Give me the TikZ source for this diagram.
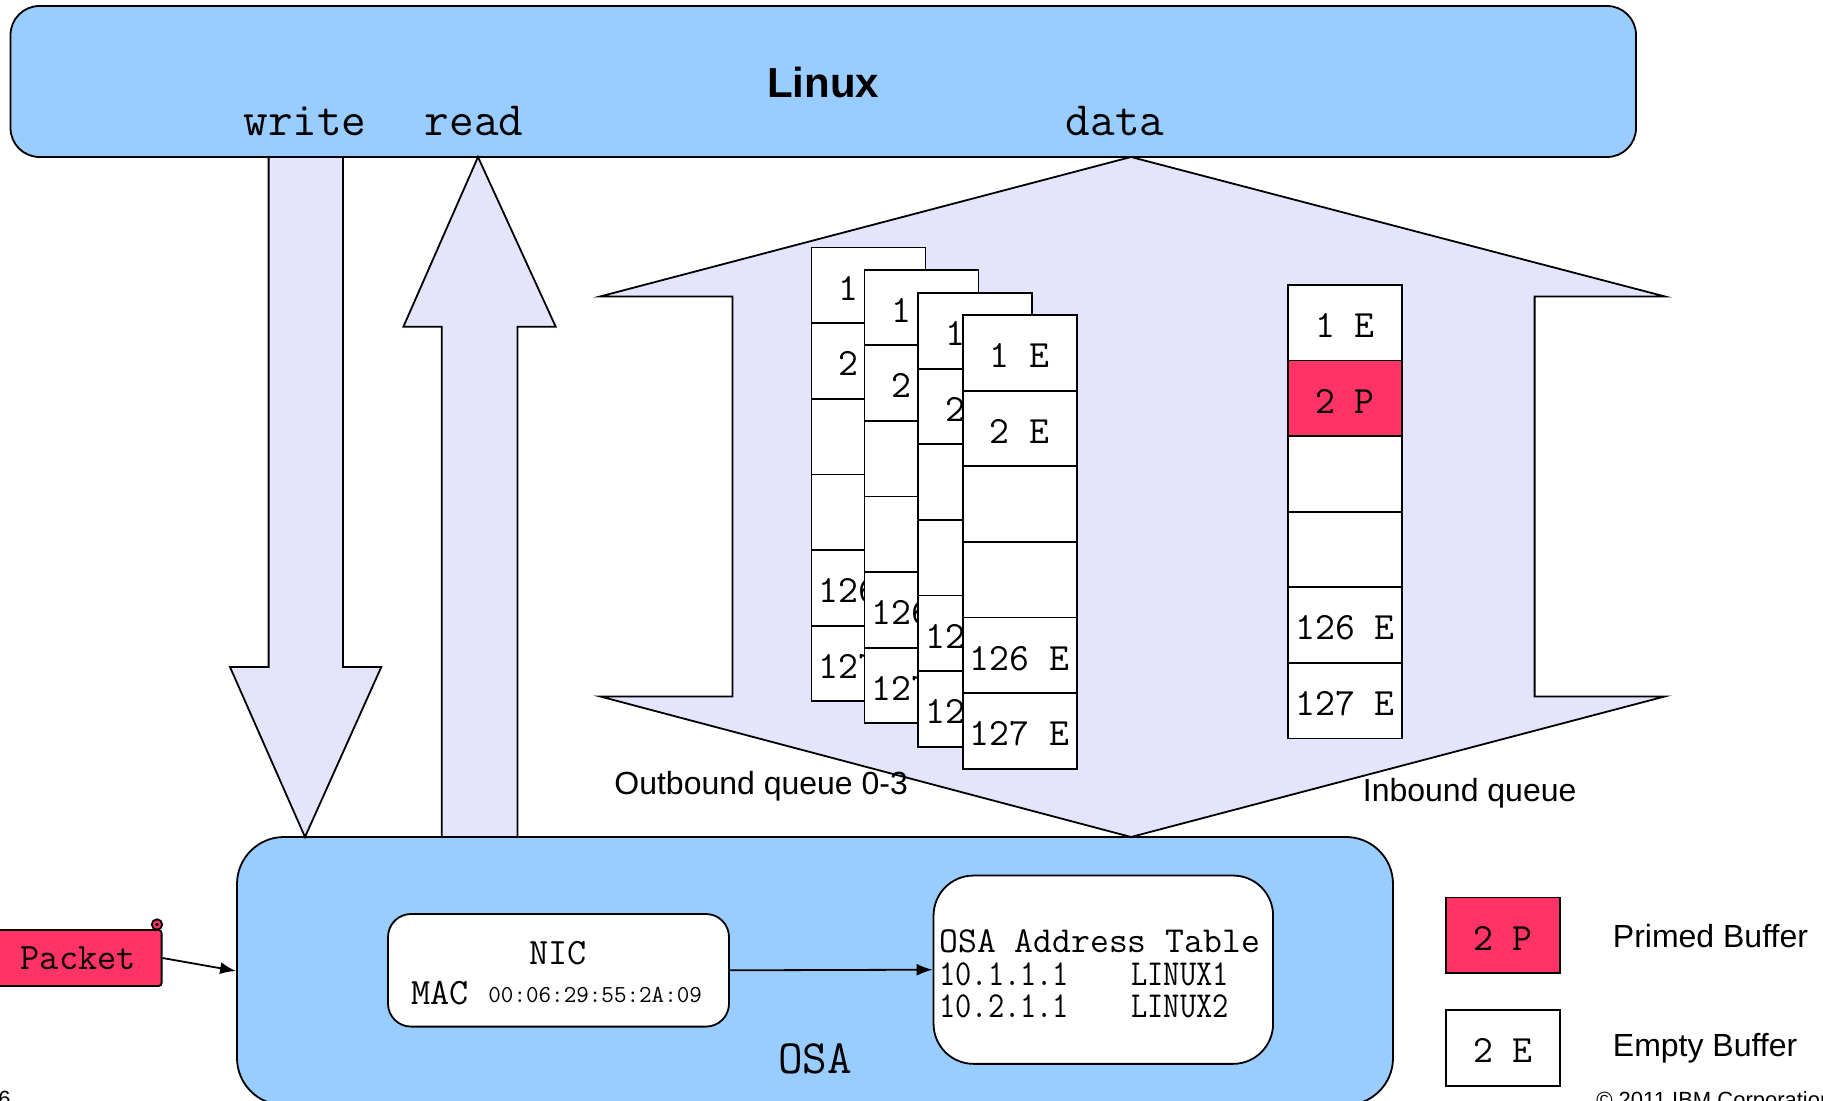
\documentclass[tikz,border=0pt]{standalone}
\usepackage{fontspec}
\setmainfont{Liberation Sans}
\usetikzlibrary{arrows.meta}

\definecolor{hostblue}{RGB}{153,204,255}
\definecolor{queuefill}{RGB}{228,228,252}
\definecolor{primed}{RGB}{255,51,102}

\tikzset{
  outline/.style={draw=black, line width=0.9pt},
  hostbox/.style={outline, fill=hostblue, inner sep=0pt},
  innerbox/.style={outline, fill=white, inner sep=0pt},
  cell/.style={outline, fill=white, minimum width=57pt, minimum height=37.8pt,
    inner sep=0pt, text height=14.8pt, text depth=0pt,
    font=\ttfamily\fontsize{19.3}{22}\selectfont},
  primedcell/.style={cell, fill=primed},
  bigmono/.style={inner sep=0pt, font=\ttfamily\fontsize{23.9}{28}\selectfont},
  midmono/.style={inner sep=0pt, font=\ttfamily\fontsize{18.6}{22}\selectfont},
  smallmono/.style={inner sep=0pt, font=\ttfamily\fontsize{12.2}{15}\selectfont},
  sanslabel/.style={inner sep=0pt, font=\fontsize{16}{19}\selectfont},
  footer/.style={inner sep=0pt, font=\fontsize{11}{13}\selectfont},
  blockarrow/.style={outline, fill=queuefill, line join=miter},
  link/.style={draw=black, line width=0.9pt, -{Latex[length=8pt,width=6pt]}},
}

\begin{document}
\begin{tikzpicture}[x=0.5pt, y=-0.5pt]
\useasboundingbox (0,0) rectangle (1823,1101);
\clip (0,0) rectangle (1823,1101);

% host and adapter boxes
\node[hostbox, rounded corners=14.5pt, minimum width=812.75pt, minimum height=75.5pt]
  (linux) at (823.25,81.5) {};
\node[inner sep=0pt, font=\bfseries\fontsize{21}{25}\selectfont] (linuxlabel) at (823,82.5) {Linux};
\node[bigmono] (writelabel) at (305,121) {write};
\node[bigmono] (readlabel) at (474,121) {read};
\node[bigmono] (datalabel) at (1115,121) {data};

\node[hostbox, rounded corners=23.5pt, minimum width=578pt, minimum height=134pt]
  (osa) at (815,971) {};
\node[bigmono] (osalabel) at (815,1059) {OSA};

% write (down) and read (up) block arrows
\draw[blockarrow] (268.6,157) -- (343,157) -- (343,667) -- (381.3,667) -- (305,837)
  -- (230,667) -- (268.6,667) -- cycle;
\draw[blockarrow] (478,157) -- (555.7,326.7) -- (517.4,326.7) -- (517.4,837)
  -- (441.8,837) -- (441.8,326.7) -- (403.4,326.7) -- cycle;

% data double arrow holding the queues
\draw[blockarrow] (1131,157) -- (1665,296.5) -- (1534.6,296.5) -- (1534.6,696.4)
  -- (1665,696.4) -- (1131,837) -- (600,696.4) -- (732.4,696.4) -- (732.4,296.5)
  -- (600,296.5) -- cycle;

% outbound queues 0-3, stacked front to back
\foreach \s/\x/\y in {1/868.5/247.6, 2/921.5/269.7, 3/975/293, 4/1019.6/315} {
  \foreach \r/\t in {1/1 E, 2/2 E, 3/, 4/, 5/126 E, 6/127 E} {
    \node[cell] (out\s-\r) at (\x,{\y+(\r-0.5)*75.6}) {\t};
  }
}

% inbound queue
\foreach \r/\t/\st in {1/1 E/cell, 2/2 P/primedcell, 3//cell, 4//cell, 5/126 E/cell, 6/127 E/cell} {
  \node[style=\st] (in-\r) at (1345,{284.8+(\r-0.5)*75.6}) {\t};
}

\node[sanslabel, anchor=west] (outlabel) at (614,786) {Outbound queue 0-3};
\node[sanslabel, anchor=west] (inlabel) at (1362.5,793) {Inbound queue};

% NIC and address table inside the adapter
\node[innerbox, rounded corners=11.5pt, minimum width=170.5pt, minimum height=56.3pt]
  (nic) at (558.5,970.3) {};
\node[midmono] (niclabel) at (558,953) {NIC};
\node[midmono, anchor=west] (maclabel) at (411,993) {MAC};
\node[smallmono, anchor=west] (macaddr) at (488,995) {00:06:29:55:2A:09};

\node[innerbox, rounded corners=20pt, minimum width=169.75pt, minimum height=94.15pt]
  (table) at (1103.3,969.7) {};
\node[inner sep=0pt, anchor=west, font=\ttfamily\fontsize{18.3}{22}\selectfont]
  (tabletitle) at (939,941.7) {OSA Address Table};
\node[inner sep=0pt, anchor=west, font=\ttfamily\fontsize{18.3}{22}\selectfont]
  (ip1) at (939,974) {\scalebox{0.86}[1]{10.1.1.1}};
\node[inner sep=0pt, anchor=west, font=\ttfamily\fontsize{18.3}{22}\selectfont]
  (host1) at (1131,974) {\scalebox{0.86}[1]{LINUX1}};
\node[inner sep=0pt, anchor=west, font=\ttfamily\fontsize{18.3}{22}\selectfont]
  (ip2) at (939,1006.8) {\scalebox{0.86}[1]{10.2.1.1}};
\node[inner sep=0pt, anchor=west, font=\ttfamily\fontsize{18.3}{22}\selectfont]
  (host2) at (1131,1006.8) {\scalebox{0.86}[1]{LINUX2}};

\draw[link] (nic.east) -- (table.west);

% incoming packet (scroll shape with a curl at its top right)
\node[outline, fill=primed, rounded corners=1.5pt, minimum width=83.3pt, minimum height=28pt,
  inner sep=0pt, font=\ttfamily\fontsize{18.6}{22}\selectfont] (packet) at (78.3,958) {Packet};
\draw[outline, fill=primed] (157,924.5) circle (2.6pt);
\fill[black] (157,924.5) circle (0.9pt);
\draw[link] (packet.east) -- (osa.west);

% legend
\node[primedcell, minimum height=37.75pt] (legendprimed) at (1503,935.3) {2 P};
\node[cell, minimum height=37.75pt] (legendempty) at (1503,1048) {2 E};
\node[sanslabel, anchor=west] (primedtext) at (1612.5,936) {Primed Buffer};
\node[sanslabel, anchor=west] (emptytext) at (1612.5,1048.7) {Empty Buffer};

% page footer
\node[footer, anchor=north west] (pagenum) at (-2,1091) {6};
\node[footer, anchor=north west] (copyright) at (1596,1091) {© 2011 IBM Corporation};
\end{tikzpicture}
\end{document}
